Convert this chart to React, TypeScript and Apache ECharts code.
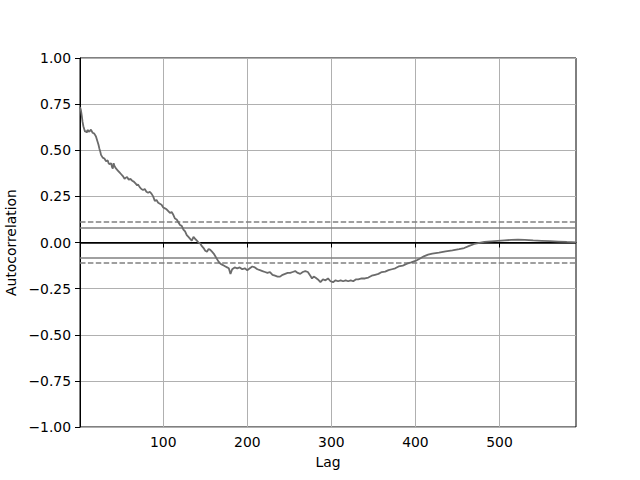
import React, { useEffect, useRef } from "react";
import * as echarts from "echarts";

const lags: number[] = [
  1, 2, 3, 4, 5, 6, 7, 8, 9, 10, 12, 14, 16, 18, 20, 21, 22, 23, 24, 25, 26, 28, 30, 32, 34, 35, 36, 38, 39, 40,
  41, 42, 44, 46, 48, 50, 52, 54, 55, 57, 59, 61, 63, 65, 67, 69, 70, 72, 74, 76, 78, 80, 82, 84, 86, 88, 90,
  92, 94, 96, 98, 100, 102, 104, 106, 108, 110, 112, 114, 116, 118, 120, 122, 124, 126, 128, 130, 132, 134,
  136, 138, 140, 142, 144, 146, 148, 150, 152, 154, 156, 158, 160, 162, 164, 166, 168, 170, 172, 174, 176,
  178, 180, 182, 185, 188, 191, 194, 197, 200, 203, 206, 209, 212, 215, 218, 221, 224, 227, 230, 233, 236,
  239, 242, 245, 248, 251, 254, 257, 260, 263, 266, 269, 272, 275, 277, 279, 281, 284, 287, 290, 293, 296,
  299, 302, 305, 308, 311, 314, 317, 320, 323, 326, 329, 332, 336, 340, 344, 348, 352, 356, 360, 364, 368,
  372, 376, 380, 385, 390, 395, 400, 405, 410, 415, 420, 428, 436, 444, 452, 458, 464, 470, 476, 482, 490,
  498, 506, 514, 522, 530, 540, 550, 560, 570, 580, 591,
];

const acf: number[] = [
  0.735, 0.72, 0.69, 0.655, 0.63, 0.615, 0.6, 0.605, 0.595, 0.61, 0.6, 0.612, 0.595, 0.59, 0.575, 0.56, 0.545,
  0.53, 0.51, 0.495, 0.475, 0.46, 0.455, 0.44, 0.445, 0.43, 0.425, 0.43, 0.41, 0.4, 0.43, 0.415, 0.4, 0.39,
  0.38, 0.37, 0.36, 0.345, 0.35, 0.355, 0.34, 0.345, 0.335, 0.33, 0.32, 0.31, 0.315, 0.3, 0.29, 0.285, 0.29,
  0.275, 0.27, 0.275, 0.265, 0.25, 0.225, 0.23, 0.215, 0.21, 0.205, 0.19, 0.185, 0.18, 0.17, 0.16, 0.165, 0.15,
  0.13, 0.125, 0.11, 0.095, 0.09, 0.07, 0.06, 0.04, 0.03, 0.02, 0.01, 0.03, 0.02, 0.01, 0.0, -0.005, -0.02,
  -0.03, -0.045, -0.05, -0.035, -0.04, -0.05, -0.06, -0.075, -0.09, -0.105, -0.115, -0.12, -0.125, -0.13,
  -0.135, -0.14, -0.17, -0.145, -0.135, -0.14, -0.135, -0.145, -0.14, -0.15, -0.14, -0.13, -0.135, -0.145,
  -0.15, -0.155, -0.16, -0.165, -0.16, -0.175, -0.18, -0.185, -0.185, -0.175, -0.17, -0.165, -0.165, -0.16,
  -0.155, -0.165, -0.17, -0.16, -0.155, -0.16, -0.18, -0.195, -0.185, -0.19, -0.2, -0.215, -0.2, -0.205,
  -0.195, -0.21, -0.215, -0.205, -0.21, -0.205, -0.21, -0.205, -0.21, -0.205, -0.21, -0.2, -0.2, -0.195,
  -0.195, -0.19, -0.18, -0.175, -0.17, -0.16, -0.158, -0.15, -0.145, -0.14, -0.13, -0.125, -0.115, -0.108,
  -0.1, -0.088, -0.075, -0.066, -0.06, -0.055, -0.048, -0.043, -0.036, -0.03, -0.018, -0.008, -0.002, 0.003,
  0.006, 0.009, 0.012, 0.014, 0.016, 0.014, 0.011, 0.009, 0.007, 0.005, 0.003, 0.001,
];

const xTicks: number[] = [100, 200, 300, 400, 500];
const yTicks: number[] = [-1, -0.75, -0.5, -0.25, 0, 0.25, 0.5, 0.75, 1];
const bands95: number[] = [0.0806, -0.0806];
const bands99: number[] = [0.106, -0.106];
const xRange: number[] = [1, 591];

const FONT = "DejaVu Sans";

export default function App() {
  const ref = useRef<HTMLDivElement>(null);
  useEffect(() => {
    if (!ref.current) return;
    const chart = echarts.init(ref.current, undefined, { renderer: "svg" });
    const data = lags.map((l, i) => [l, acf[i]]);
    const hline = (v: number, color: string, dashed: boolean) => ({
      yAxis: v,
      lineStyle: { color, width: 1.5, type: dashed ? [5.5, 2.4] : "solid" },
    });
    chart.setOption({
      animation: false,
      backgroundColor: "#ffffff",
      grid: {
        left: 80,
        right: 64,
        top: 58,
        bottom: 53,
        containLabel: false,
        outerBoundsMode: "none",
        show: true,
        borderColor: "#000",
        borderWidth: 1,
        backgroundColor: "transparent",
      },
      xAxis: {
        type: "value",
        min: xRange[0],
        max: xRange[1],
        name: "Lag",
        nameLocation: "middle",
        nameGap: 28,
        nameTextStyle: { fontFamily: FONT, fontSize: 13.9, color: "#000" },
        axisLine: { show: true, lineStyle: { color: "#000", width: 1 } },
        axisTick: { show: true, length: 5, lineStyle: { color: "#000", width: 1 }, customValues: xTicks },
        axisLabel: { fontFamily: FONT, fontSize: 13.9, color: "#000", margin: 8, customValues: xTicks },
        splitLine: { show: true, lineStyle: { color: "#b0b0b0", width: 1 } },
      },
      yAxis: {
        type: "value",
        min: -1,
        max: 1,
        interval: 0.25,
        name: "Autocorrelation",
        nameLocation: "middle",
        nameGap: 55,
        nameTextStyle: { fontFamily: FONT, fontSize: 13.9, color: "#000" },
        axisLine: { show: true, lineStyle: { color: "#000", width: 1 } },
        axisTick: { show: true, length: 5, lineStyle: { color: "#000", width: 1 }, customValues: yTicks },
        axisLabel: {
          fontFamily: FONT,
          fontSize: 13.9,
          color: "#000",
          margin: 9,
          formatter: (v: number) => (v < 0 ? "\u2212" + Math.abs(v).toFixed(2) : v.toFixed(2)),
        },
        splitLine: { show: true, lineStyle: { color: "#b0b0b0", width: 1 } },
      },
      series: [
        {
          type: "line",
          data,
          showSymbol: false,
          symbol: "none",
          lineStyle: { color: "#6b6b6b", width: 1.8 },
          z: 3,
          markLine: {
            silent: true,
            symbol: "none",
            label: { show: false },
            z: 2,
            data: [
              hline(bands99[0], "#808080", true),
              hline(bands95[0], "#808080", false),
              hline(0, "#000000", false),
              hline(bands95[1], "#808080", false),
              hline(bands99[1], "#808080", true),
            ],
          },
        },
      ],
    });
    return () => chart.dispose();
  }, []);
  return <div ref={ref} style={{ position: "fixed", left: 0, top: 0, width: 640, height: 480 }} />;
}
